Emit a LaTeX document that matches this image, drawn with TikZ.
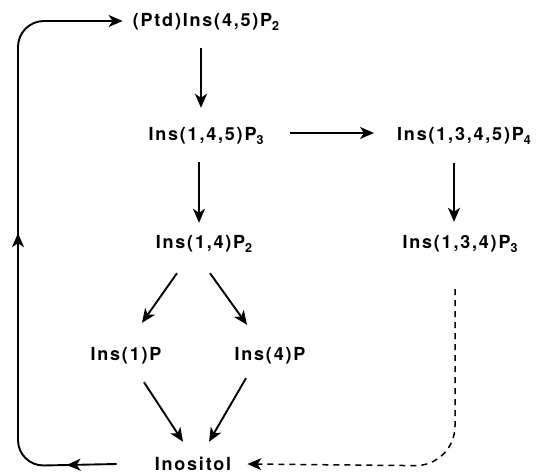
\documentclass[tikz,border=0pt]{standalone}
\usepackage{fontspec}
\usetikzlibrary{arrows.meta,calc,decorations.markings}
\newfontfamily\labfont[LetterSpace=10]{TeX Gyre Heros}
\newcommand\lab{\labfont\bfseries\fontsize{18}{20}\selectfont}
\newcommand\sbx[1]{\raisebox{-4pt}{\fontsize{12.5}{12}\selectfont #1}}
\begin{document}
\begin{tikzpicture}[x=1pt,y=-1pt,
  lbl/.style={font=\lab, inner sep=0pt, text height=13pt, text depth=3pt, anchor=base},
  arr/.style={-{Stealth[length=14pt,width=12pt,inset=4pt]}, line width=1.9pt},
  dsh/.style={-{Stealth[length=14pt,width=12pt,inset=4pt]}, line width=1.5pt, dash pattern=on 6pt off 5pt}]
\useasboundingbox (0,0) rectangle (539,474);
\node[lbl] (ptd)   at (206,26)  {(Ptd)Ins(4,5)P\sbx{2}};
\node[lbl] (i145)  at (206,140) {Ins(1,4,5)P\sbx{3}};
\node[lbl] (i1345) at (464,140) {Ins(1,3,4,5)P\sbx{4}};
\node[lbl] (i134)  at (460,248) {Ins(1,3,4)P\sbx{3}};
\node[lbl] (i14)   at (204,248) {Ins(1,4)P\sbx{2}};
\node[lbl] (i1)    at (126,360) {Ins(1)P};
\node[lbl] (i4)    at (270,360) {Ins(4)P};
\node[lbl] (ino)   at (193,470) {Inositol};
% main arrows
\draw[arr] ($(ptd.south)+(-5,19)$) -- ($(i145.north)+(-5,-19)$);
\draw[arr] ($(i145.east)+(26,-2)$) -- ($(i1345.west)+(-23,-2)$);
\draw[arr] ($(i1345.south)+(-10,20)$) -- ($(i134.north)+(-6,-13)$);
\draw[arr] ($(i145.south)+(-7,19)$) -- ($(i14.north)+(-5,-12)$);
\draw[arr] ($(i14.south)+(-27,22)$) -- ($(i1.north)+(16,-24)$);
\draw[arr] ($(i14.south)+(6,22)$) -- ($(i4.north)+(-23,-22)$);
\draw[arr] ($(i1.south)+(18,19)$) -- ($(ino.north)+(-10,-15)$);
\draw[arr] ($(i4.south)+(-24,15)$) -- ($(ino.north)+(16,-15)$);
% recycling loop
\coordinate (lb) at (18,466);
\coordinate (lt) at (18,21);
\draw[arr, rounded corners=26pt,
  postaction={decorate, decoration={markings,
    mark=at position 50pt with {\arrow{Stealth[length=14pt,width=12pt,inset=4pt]}},
    mark=at position 320pt with {\arrow{Stealth[length=14pt,width=12pt,inset=4pt]}}}}]
  ($(ino.west)+(-38,-1)$) -- (lb) -- (lt) -- ($(ptd.west)+(-10,0)$);
% dashed route
\coordinate (rb) at (455,466);
\draw[dsh, rounded corners=40pt] ($(i134.south)+(-5,38)$) -- (rb) -- ($(ino.east)+(16,-1)$);
\end{tikzpicture}
\end{document}
